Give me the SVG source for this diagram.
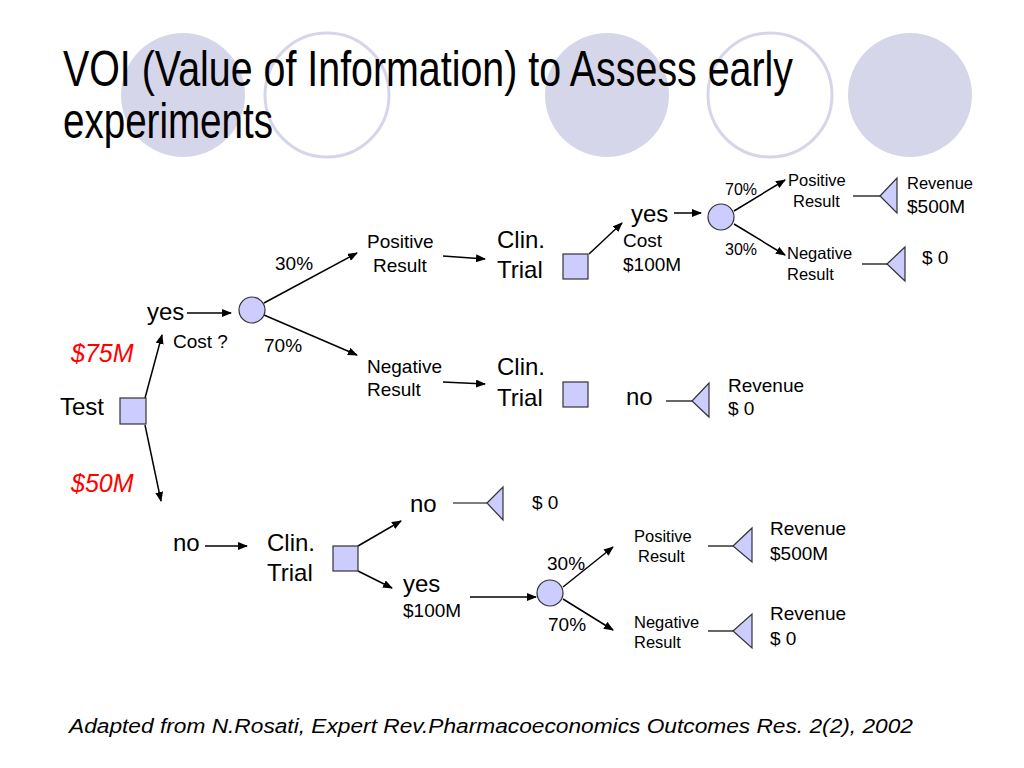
<svg xmlns="http://www.w3.org/2000/svg" width="1024" height="768" viewBox="0 0 1024 768">
<style>
text{font-family:"Liberation Sans",Arial,sans-serif;fill:#000}
.big{font-size:24px}
.med{font-size:19px}
.sm{font-size:16.5px}
.red{font-size:25px;font-style:italic;fill:#ff0000}
.bgf{fill:#d6d6ea}
.bgo{fill:none;stroke:#d6d6ea;stroke-width:3}
.nd{fill:#ccccff;stroke:#333;stroke-width:1.2}
.ar{stroke:#000;stroke-width:1.5;fill:none;marker-end:url(#ah)}
.ln{stroke:#000;stroke-width:1.2;fill:none}
</style>
<defs>
<marker id="ah" markerWidth="10" markerHeight="8" refX="9" refY="4" orient="auto" markerUnits="userSpaceOnUse">
<path d="M0,0 L10,4 L0,8 z" fill="#000"/>
</marker>
</defs>
<rect width="1024" height="768" fill="#fff"/>
<g id="background">
<circle class="bgf" cx="183" cy="95" r="62"/>
<circle class="bgo" cx="327" cy="95" r="62"/>
<circle class="bgf" cx="607" cy="95" r="62"/>
<circle class="bgo" cx="770" cy="95" r="62"/>
<circle class="bgf" cx="910" cy="95" r="62"/>
</g>
<g id="title">
<text x="63" y="86" font-size="50" textLength="730" lengthAdjust="spacingAndGlyphs">VOI (Value of Information) to Assess early</text>
<text x="63" y="138" font-size="50" textLength="210" lengthAdjust="spacingAndGlyphs">experiments</text>
</g>
<g id="connectors">
<line class="ar" x1="145" y1="398" x2="162" y2="335"/>
<line class="ar" x1="145" y1="425" x2="161" y2="501"/>
<line class="ar" x1="187" y1="313" x2="231" y2="313"/>
<line class="ar" x1="264" y1="303" x2="357" y2="253"/>
<line class="ar" x1="264" y1="315" x2="357" y2="355"/>
<line class="ar" x1="443" y1="256" x2="485" y2="259"/>
<line class="ar" x1="443" y1="382" x2="485" y2="384"/>
<line class="ar" x1="589" y1="254" x2="622" y2="223"/>
<line class="ar" x1="674" y1="213" x2="701" y2="213"/>
<line class="ar" x1="734" y1="211" x2="785" y2="180"/>
<line class="ar" x1="734" y1="224" x2="785" y2="255"/>
<line class="ln" x1="853" y1="196" x2="880" y2="196"/>
<line class="ln" x1="862" y1="264" x2="887" y2="264"/>
<line class="ln" x1="666" y1="401" x2="692" y2="401"/>
<line class="ar" x1="205" y1="546" x2="247" y2="546"/>
<line class="ar" x1="358" y1="546" x2="401" y2="521"/>
<line class="ar" x1="358" y1="571" x2="392" y2="588"/>
<line class="ln" x1="453" y1="503" x2="487" y2="503"/>
<line class="ar" x1="470" y1="597" x2="536" y2="597"/>
<line class="ar" x1="563" y1="587" x2="613" y2="547"/>
<line class="ar" x1="563" y1="599" x2="613" y2="630"/>
<line class="ln" x1="708" y1="546" x2="733" y2="546"/>
<line class="ln" x1="708" y1="631" x2="733" y2="631"/>
</g>
<g id="test">
<rect class="nd" x="120" y="398" width="26" height="26"/>
<text class="big" x="60" y="415">Test</text>
<text class="red" x="71" y="362">$75M</text>
<text class="red" x="71" y="492">$50M</text>
</g>
<g id="test-yes">
<text class="big" x="147" y="320">yes</text>
<text class="med" x="173" y="348">Cost ?</text>
</g>
<g id="chance1">
<circle class="nd" cx="252" cy="310" r="13"/>
<text class="med" x="275" y="270">30%</text>
<text class="med" x="264" y="352">70%</text>
</g>
<g id="pos1">
<text class="med" x="367" y="248">Positive</text>
<text class="med" x="373" y="272">Result</text>
</g>
<g id="neg1">
<text class="med" x="367" y="373">Negative</text>
<text class="med" x="367" y="396">Result</text>
</g>
<g id="trial-pos">
<text class="big" x="497" y="248">Clin.</text>
<text class="big" x="497" y="278">Trial</text>
<rect class="nd" x="563" y="254" width="25" height="25"/>
</g>
<g id="trial-pos-yes">
<text class="big" x="631" y="222">yes</text>
<text class="med" x="623" y="247">Cost</text>
<text class="med" x="623" y="271">$100M</text>
</g>
<g id="chance2">
<circle class="nd" cx="721" cy="217" r="13"/>
<text x="725" y="195" font-size="16">70%</text>
<text x="725" y="255" font-size="16">30%</text>
</g>
<g id="pos2">
<text class="sm" x="788" y="186">Positive</text>
<text class="sm" x="793" y="207">Result</text>
</g>
<g id="end-pos2">
<polygon class="nd" points="880,196 897,178 897,213"/>
<text class="sm" x="907" y="189">Revenue</text>
<text class="med" x="907" y="213">$500M</text>
</g>
<g id="neg2">
<text class="sm" x="787" y="259">Negative</text>
<text class="sm" x="787" y="280">Result</text>
</g>
<g id="end-neg2">
<polygon class="nd" points="887,264 905,247 905,281"/>
<text class="med" x="922" y="264">$ 0</text>
</g>
<g id="trial-neg">
<text class="big" x="497" y="375">Clin.</text>
<text class="big" x="497" y="406">Trial</text>
<rect class="nd" x="563" y="382" width="25" height="25"/>
</g>
<g id="trial-neg-no">
<text class="big" x="626" y="405">no</text>
</g>
<g id="end-trial-neg">
<polygon class="nd" points="692,401 709,383 709,417"/>
<text class="med" x="728" y="392">Revenue</text>
<text class="med" x="728" y="415">$ 0</text>
</g>
<g id="test-no">
<text class="big" x="173" y="551">no</text>
</g>
<g id="trial3">
<text class="big" x="267" y="551">Clin.</text>
<text class="big" x="267" y="581">Trial</text>
<rect class="nd" x="333" y="546" width="25" height="25"/>
</g>
<g id="trial3-no">
<text class="big" x="410" y="512">no</text>
</g>
<g id="end-trial3-no">
<polygon class="nd" points="487,503 503,487 503,520"/>
<text class="med" x="532" y="509">$ 0</text>
</g>
<g id="trial3-yes">
<text class="big" x="403" y="592">yes</text>
<text class="med" x="403" y="617">$100M</text>
</g>
<g id="chance3">
<circle class="nd" cx="550" cy="593" r="13"/>
<text class="med" x="547" y="570">30%</text>
<text class="med" x="548" y="631">70%</text>
</g>
<g id="pos3">
<text class="sm" x="634" y="542">Positive</text>
<text class="sm" x="638" y="562">Result</text>
</g>
<g id="end-pos3">
<polygon class="nd" points="733,546 752,528 752,562"/>
<text class="med" x="770" y="535">Revenue</text>
<text class="med" x="770" y="560">$500M</text>
</g>
<g id="neg3">
<text class="sm" x="634" y="628">Negative</text>
<text class="sm" x="634" y="648">Result</text>
</g>
<g id="end-neg3">
<polygon class="nd" points="733,631 752,614 752,648"/>
<text class="med" x="770" y="620">Revenue</text>
<text class="med" x="770" y="645">$ 0</text>
</g>
<g id="footer">
<text x="69" y="733" font-size="20" font-style="italic" textLength="844" lengthAdjust="spacingAndGlyphs">Adapted from N.Rosati, Expert Rev.Pharmacoeconomics Outcomes Res. 2(2), 2002</text>
</g>
</svg>
